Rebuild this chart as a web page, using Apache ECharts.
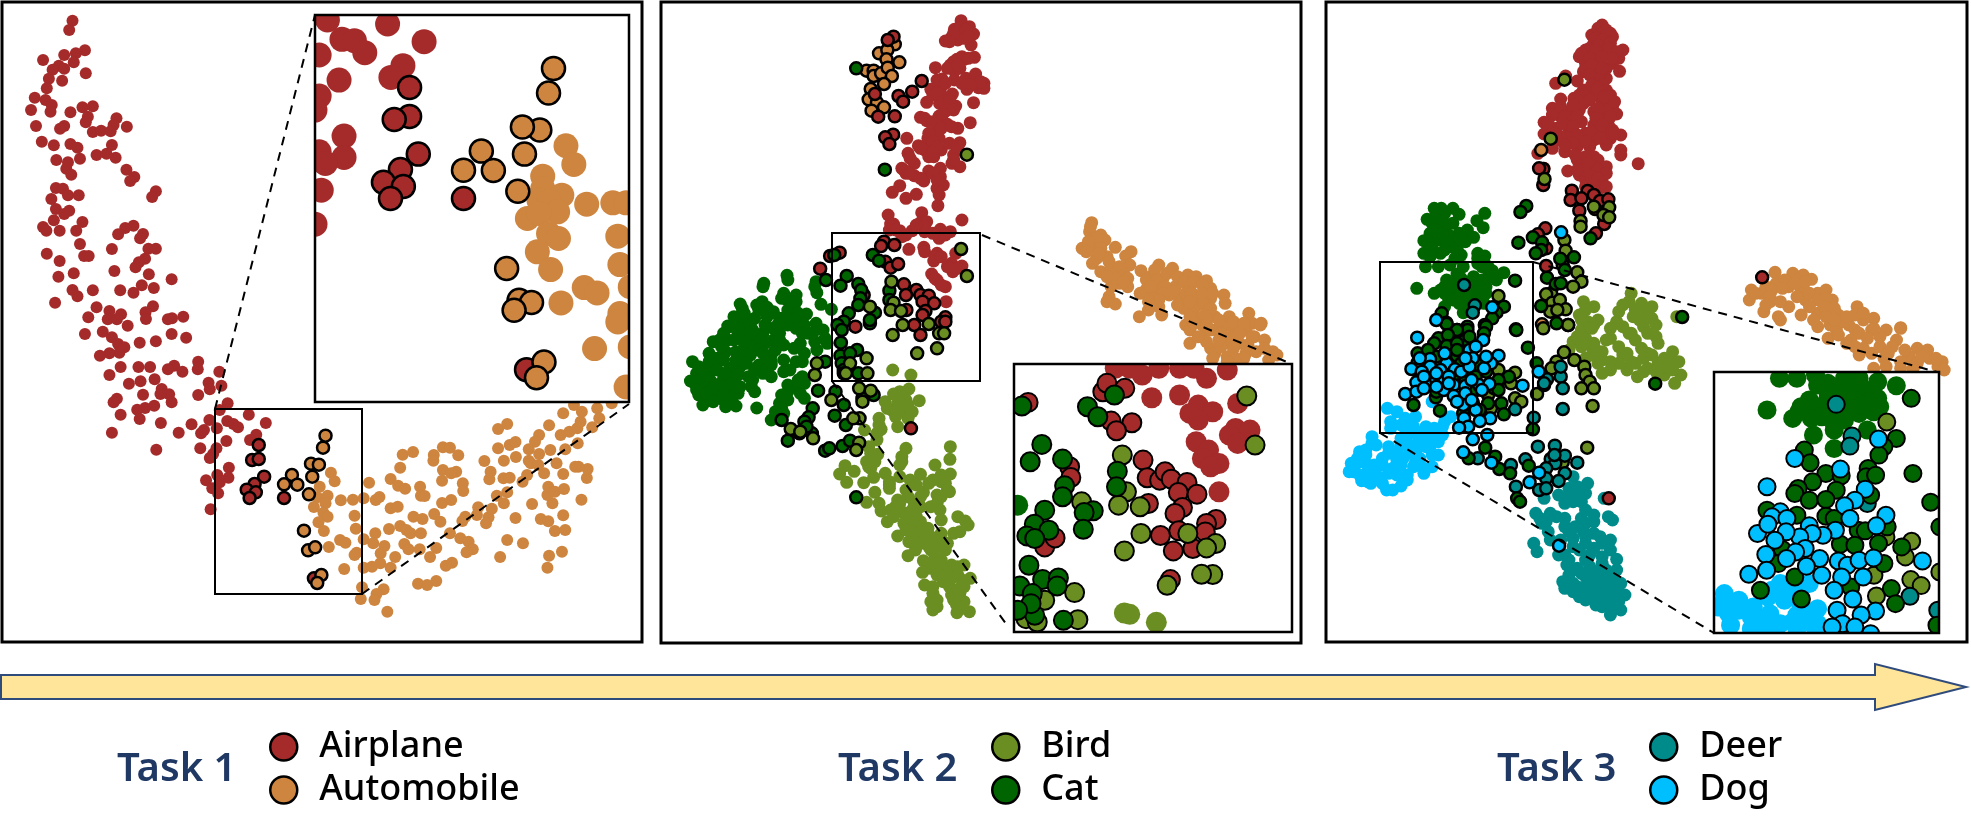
<!DOCTYPE html>
<html lang="en">
<head>
<meta charset="UTF-8">
<title>Task embeddings</title>
<script src="https://cdn.jsdelivr.net/npm/echarts@6/dist/echarts.min.js"></script>
<style>
    html, body { margin: 0; background: #fff; }
    #main { width: 1971px; height: 833px; }
</style>
</head>
<body>
<div id="main"></div>
<script>
// embedding coordinates, one list per class and per view
const t1Airplane = [[175,62],[167,90],[205,151],[183,160],[155,165],[104,180],[178,187],[142,197],[155,206],[127,209],[207,220],[118,236],[150,242],[113,265],[84,293],[110,300],[125,315],[75,330],[122,335],[170,337],[199,322],[224,319],[212,350],[207,367],[281,355],[274,375],[306,380],[87,378],[155,378],[145,386],[224,396],[244,392],[267,394],[101,425],[130,436],[170,432],[187,443],[270,435],[233,465],[257,461],[279,473],[193,476],[136,480],[164,487],[160,506],[172,524],[305,509],[324,531],[314,543],[135,564],[152,566],[164,586],[190,586],[124,597],[376,574],[367,591],[135,627],[167,632],[155,642],[130,661],[199,666],[104,681],[112,692],[144,692],[184,692],[322,677],[302,684],[285,703],[345,702],[338,715],[193,732],[270,747],[358,746],[376,746],[113,761],[203,768],[214,768],[350,776],[335,787],[327,802],[144,783],[178,820],[276,813],[359,823],[141,830],[414,838],[342,856],[371,864],[175,870],[187,889],[224,871],[290,871],[322,878],[133,908],[233,922],[369,919],[351,937],[264,933],[292,943],[213,952],[260,958],[282,958],[442,950],[415,955],[405,958],[352,957],[308,977],[205,1002],[248,995],[270,1012],[414,1002],[449,1013],[337,1028],[376,1024],[285,1032],[300,1042],[288,1058],[264,1060],[241,1067],[478,1085],[291,1101],[334,1101],[362,1101],[420,1097],[405,1108],[440,1115],[477,1108],[529,1115],[264,1125],[373,1138],[339,1144],[311,1151],[503,1148],[534,1157],[506,1168],[390,1167],[408,1183],[345,1184],[387,1182],[478,1185],[282,1196],[274,1207],[414,1207],[372,1217],[350,1224],[331,1229],[549,1210],[530,1230],[291,1244],[337,1257],[600,1244],[388,1269],[462,1273],[505,1260],[548,1263],[641,1269],[563,1272],[574,1282],[523,1285],[492,1290],[485,1300],[270,1298],[431,1298],[618,1304],[603,1320],[546,1323],[377,1349],[483,1345],[522,1345],[514,1362],[506,1374],[552,1403],[524,1425],[551,1433],[497,1441],[530,1447],[512,1465],[526,1480],[508,1528]];
const t1AirplaneOld = [[757,1735],[624,1335],[608,1380],[624,1377],[637,1430],[614,1452],[595,1469],[617,1477],[602,1494],[685,1494]];
const t1Automobile = [[798,1418],[807,1444],[771,1460],[890,1448],[942,1437],[965,1403],[971,1364],[996,1356],[1046,1365],[1045,1382],[1068,1342],[1085,1343],[1105,1366],[1068,1410],[1100,1415],[1088,1420],[1066,1442],[1116,1450],[1117,1473],[960,1457],[977,1466],[1013,1460],[1015,1487],[1024,1488],[765,1492],[790,1487],[757,1521],[785,1510],[822,1501],[851,1499],[877,1495],[906,1500],[915,1491],[942,1525],[959,1520],[1066,1509],[1088,1500],[1047,1542],[997,1550],[1019,1557],[1062,1565],[780,1538],[790,1550],[855,1547],[768,1567],[781,1593],[858,1586],[938,1587],[965,1578],[980,1590],[990,1600],[1015,1600],[905,1600],[877,1618],[820,1620],[833,1628],[900,1630],[793,1641],[927,1638],[975,1632],[985,1648],[1012,1648],[1052,1644],[1085,1600],[1110,1615],[1130,1625],[1140,1648],[1125,1657],[1122,1550],[1115,1563],[860,1658],[855,1665],[918,1660],[953,1671],[1037,1671],[917,1690],[877,1703],[897,1700],[942,1703],[830,1707],[1075,1697],[1090,1688],[1008,1751],[1030,1755],[1052,1743],[873,1762],[925,1768],[908,1782],[903,1800],[870,1797],[934,1835],[1153,1522],[1150,1545],[1178,1552],[1186,1526],[1172,1570],[1198,1487],[1215,1510],[1223,1477],[1243,1554],[1223,1620],[1261,1630],[1206,1671],[1283,1512],[1304,1557],[1322,1564],[1358,1546],[1338,1593],[1363,1590],[1324,1667],[1355,1655],[1320,1703],[1332,1510],[1320,1485],[1322,1460],[1338,1475],[1360,1467],[1402,1499],[1312,1420],[1358,1422],[1342,1390],[1415,1434],[1417,1407],[1395,1400],[1387,1400],[1271,1425],[1260,1445],[1214,1435],[1229,1433],[1180,1438],[1183,1415],[1168,1383],[1215,1382],[1244,1371],[1201,1345],[1229,1335],[1243,1326],[1201,1287],[1223,1272],[1275,1348],[1275,1382],[1300,1362],[1327,1350],[1300,1305],[1290,1325],[1280,1390],[1298,1395],[1324,1276],[1358,1240],[1352,1305],[1373,1295],[1392,1285],[1400,1265],[1403,1235],[1384,1215],[1440,1225],[1428,1282],[1445,1255],[1393,1330],[1363,1348],[1475,1210]];
const t1AutomobileOld = [[785,1307],[779,1343],[750,1391],[769,1394],[753,1430],[704,1425],[685,1453],[717,1454],[745,1483],[733,1592],[743,1651],[760,1642],[775,1725],[765,1749]];
const t1ZoomAirplane = [[790,60],[935,72],[825,118],[855,122],[880,158],[1023,125],[770,165],[972,197],[818,240],[943,232],[770,288],[760,330],[830,408],[770,455],[830,472],[785,490],[775,570],[760,672]];
const t1ZoomAirplaneOld = [[988,262],[988,349],[951,358],[1009,462],[966,508],[925,546],[973,559],[942,595],[1118,595],[1270,1108]];
const t1ZoomAutomobile = [[1365,437],[1384,493],[1309,528],[1309,565],[1355,585],[1415,612],[1478,608],[1510,608],[1300,600],[1325,605],[1345,635],[1272,655],[1300,640],[1323,700],[1347,715],[1296,755],[1328,808],[1490,708],[1495,793],[1409,862],[1440,878],[1353,908],[1495,940],[1520,860],[1490,965],[1434,1045],[1520,1040],[1510,1160]];
const t1ZoomAutomobileOld = [[1335,205],[1323,279],[1302,390],[1260,381],[1265,462],[1161,453],[1118,510],[1190,511],[1249,573],[1222,805],[1252,900],[1282,907],[1240,930],[1312,1085],[1294,1132]];

const t2Airplane = [[738,62],[722,88],[758,80],[768,102],[740,100],[715,112],[700,123],[730,120],[762,135],[770,172],[745,178],[728,178],[712,195],[735,205],[676,203],[722,213],[692,237],[665,268],[688,268],[722,240],[750,235],[773,222],[752,268],[780,263],[793,250],[793,265],[717,282],[700,293],[686,310],[655,307],[768,308],[725,318],[702,332],[685,348],[640,352],[655,362],[685,370],[705,373],[760,368],[730,385],[680,395],[607,415],[658,415],[635,437],[685,415],[735,428],[665,440],[690,450],[650,450],[610,460],[660,470],[672,470],[720,465],[716,490],[735,500],[625,490],[595,505],[660,513],[688,505],[605,520],[625,527],[648,543],[688,530],[695,555],[680,565],[590,557],[572,577],[630,583],[605,595],[685,585],[682,617],[562,645],[643,638],[740,660],[568,672],[640,668],[655,665],[565,690],[590,692],[620,692],[688,688],[712,695],[595,710],[650,695],[685,715],[612,748],[648,742],[650,755],[680,760],[672,783],[725,760],[740,798],[715,790],[718,815],[667,822],[680,840],[700,860],[702,905],[575,672],[735,85],[745,115],[720,100],[750,90],[755,110],[710,125],[740,170],[755,175],[720,185],[705,205],[730,195],[680,240],[700,250],[670,285],[680,280],[755,245],[770,250],[740,250],[785,245],[760,255],[695,305],[710,300],[720,330],[695,340],[650,355],[670,365],[690,385],[715,380],[660,400],[670,425],[680,440],[710,430],[730,440],[640,445],[670,455],[615,475],[720,480],[600,510],[615,520],[640,535],[670,520],[680,540],[575,680],[580,690],[650,680],[630,675],[605,705],[670,700],[700,705],[675,770],[690,770],[730,805],[705,800],[675,835],[690,855]];
const t2AirplaneOld = [[575,110],[561,120],[530,282],[587,288],[598,305],[620,275],[643,243],[538,350],[578,349],[574,404],[555,412],[565,432],[552,725],[545,738],[577,735],[422,768],[445,758],[398,806],[555,785],[568,803],[586,792],[600,853],[630,870],[640,885],[660,887],[605,885],[645,905],[673,910],[606,930],[652,933],[645,945],[700,952],[503,885],[625,975],[690,965],[483,980],[640,1005],[700,965],[617,1285]];
const t2Automobile = [[1053,668],[1048,695],[1075,705],[1085,720],[1030,745],[1060,740],[1110,742],[1148,755],[1135,768],[1090,770],[1065,775],[1145,795],[1055,790],[1075,815],[1110,810],[1130,820],[1215,795],[1248,805],[1172,812],[1195,830],[1225,835],[1285,825],[1305,830],[1330,842],[1120,850],[1140,860],[1100,860],[1185,868],[1215,860],[1255,860],[1290,860],[1340,865],[1095,890],[1090,905],[1110,912],[1200,890],[1240,885],[1265,895],[1310,900],[1340,895],[1372,885],[1375,910],[1215,920],[1275,925],[1300,925],[1190,930],[1168,950],[1222,945],[1335,935],[1350,950],[1385,950],[1432,940],[1310,955],[1280,975],[1405,975],[1440,970],[1462,970],[1375,975],[1290,990],[1320,1010],[1350,990],[1395,990],[1425,990],[1445,1010],[1375,1025],[1410,1030],[1340,1045],[1350,1060],[1380,1070],[1425,1060],[1450,1055],[1490,1055],[1500,1065],[1345,1075],[1290,1030],[1420,1075],[1470,1020],[1400,975],[1460,975],[1320,975],[1050,680],[1065,715],[1045,725],[1040,755],[1075,745],[1070,760],[1095,785],[1100,800],[1120,800],[1125,830],[1110,835],[1090,830],[1140,835],[1130,845],[1185,840],[1205,810],[1210,840],[1200,850],[1170,880],[1195,860],[1235,820],[1230,860],[1260,830],[1275,845],[1300,845],[1320,855],[1280,880],[1295,880],[1320,880],[1345,880],[1250,875],[1225,880],[1260,915],[1290,905],[1325,915],[1340,925],[1215,900],[1190,905],[1395,965],[1420,970],[1360,960],[1325,945],[1290,950],[1300,970],[1330,975],[1340,990],[1365,1000],[1390,1010],[1410,1000],[1440,1010],[1430,1035],[1395,1045],[1365,1040],[1330,1025],[1310,1010],[1360,1020],[1470,1045],[1480,1080],[1400,1075],[1380,1085]];
const t2AutomobileOld = [[578,133],[540,160],[560,150],[558,178],[589,187],[510,212],[527,212],[527,228],[545,220],[561,203],[571,228],[552,252],[520,267],[515,298],[535,308],[552,322],[522,332]];
const t2Bird = [[573,1110],[617,1125],[612,1167],[590,1175],[575,1182],[637,1202],[605,1200],[555,1205],[595,1230],[620,1235],[570,1230],[540,1255],[585,1280],[545,1288],[505,1290],[535,1320],[515,1340],[605,1345],[595,1370],[712,1340],[711,1378],[537,1363],[590,1395],[510,1385],[520,1405],[458,1397],[445,1422],[480,1414],[462,1447],[555,1420],[527,1432],[503,1448],[675,1395],[712,1422],[690,1425],[640,1423],[615,1440],[590,1430],[670,1440],[700,1450],[565,1455],[565,1465],[605,1470],[647,1477],[710,1475],[680,1485],[530,1477],[585,1500],[510,1507],[625,1510],[540,1510],[665,1520],[545,1533],[568,1530],[600,1538],[687,1530],[690,1560],[630,1550],[730,1550],[748,1563],[755,1575],[735,1595],[560,1565],[600,1570],[620,1580],[658,1585],[585,1608],[612,1625],[650,1615],[690,1600],[720,1600],[680,1625],[628,1650],[610,1667],[665,1650],[700,1650],[647,1682],[745,1695],[715,1695],[665,1705],[700,1710],[645,1717],[730,1725],[760,1735],[650,1755],[695,1745],[735,1765],[670,1780],[715,1785],[745,1760],[680,1820],[665,1805],[745,1805],[728,1838],[758,1835],[727,1815],[715,1715],[680,1710],[635,1600],[600,1190],[585,1210],[610,1215],[560,1225],[580,1250],[610,1255],[540,1275],[535,1300],[520,1360],[530,1385],[595,1385],[515,1400],[565,1445],[630,1455],[660,1450],[690,1445],[705,1470],[690,1490],[640,1490],[610,1490],[590,1510],[580,1520],[640,1520],[680,1510],[620,1530],[575,1550],[640,1565],[620,1560],[605,1590],[625,1600],[645,1600],[620,1620],[640,1630],[665,1610],[690,1620],[660,1640],[680,1640],[705,1630],[675,1670],[690,1680],[665,1690],[730,1700],[700,1725],[680,1725],[715,1735],[740,1740],[670,1760],[710,1760],[735,1780],[680,1800],[720,1800],[740,1825],[670,1830]];
const t2BirdOld = [[752,464],[738,747],[752,828],[570,845],[575,908],[568,930],[593,933],[518,920],[597,975],[660,972],[573,1005],[685,1000],[697,1000],[632,1060],[680,1045],[510,1075],[390,1090],[385,1125],[512,1120],[492,1165],[520,1172],[425,1200],[500,1205],[493,1255],[478,1255],[327,1287],[381,1315],[350,1295],[492,1328],[485,1350],[470,1090],[460,1120]];
const t2Cat = [[318,826],[262,850],[388,845],[390,878],[310,880],[340,885],[205,912],[258,905],[245,915],[270,922],[315,897],[400,913],[425,928],[335,925],[330,945],[300,955],[365,942],[210,965],[240,955],[175,978],[320,965],[352,965],[388,970],[228,985],[180,980],[225,975],[260,1000],[285,985],[320,975],[360,975],[405,990],[370,1000],[140,1025],[175,1020],[210,1010],[240,1025],[285,1020],[310,1035],[335,1045],[130,1060],[170,1055],[195,1055],[280,1065],[360,1060],[390,1050],[415,1030],[90,1085],[150,1075],[205,1100],[250,1095],[270,1085],[340,1085],[355,1085],[100,1120],[125,1105],[180,1105],[85,1143],[130,1125],[165,1135],[185,1135],[310,1115],[280,1130],[355,1130],[120,1160],[150,1155],[200,1180],[175,1175],[105,1185],[150,1190],[232,1160],[240,1175],[320,1155],[345,1165],[115,1215],[195,1218],[165,1200],[245,1224],[300,1210],[320,1200],[360,1195],[305,1225],[280,1260],[135,1145],[140,1090],[110,1140],[190,1165],[130,1190],[320,840],[260,860],[385,860],[305,895],[340,905],[210,925],[250,930],[320,930],[345,940],[315,950],[335,960],[230,970],[200,985],[235,990],[265,975],[295,975],[340,985],[200,1000],[250,1010],[230,1000],[265,1030],[300,1000],[290,1050],[160,1040],[140,1075],[165,1080],[195,1080],[215,1030],[130,1085],[105,1100],[120,1130],[150,1110],[170,1120],[200,1125],[265,1110],[280,1095],[260,1120],[95,1150],[115,1160],[140,1165],[165,1160],[185,1150],[100,1170],[125,1180],[165,1185],[205,1160],[140,1205],[185,1195],[170,1220],[290,1235],[310,1240],[345,1140],[350,1180],[360,1150],[320,1175],[305,1185],[280,1085],[240,1110],[230,1040],[190,950],[215,940],[270,950],[285,935],[355,1000],[300,1020],[250,1050],[215,1060],[190,1020],[165,1000],[155,1020],[230,1065],[235,1140],[260,1060],[310,1080],[325,1110],[220,1090],[225,1130],[350,1030],[385,1025],[380,1000],[410,1015]];
const t2CatOld = [[485,205],[554,509],[432,765],[525,765],[540,782],[412,840],[462,828],[447,857],[490,852],[497,870],[495,895],[490,915],[565,872],[565,900],[467,940],[455,965],[518,970],[530,938],[518,960],[440,975],[450,990],[448,1028],[487,1050],[447,1067],[470,1060],[410,1085],[450,1090],[455,1110],[435,1175],[455,1215],[433,1247],[460,1275],[380,1225],[370,1252],[360,1265],[348,1300],[320,1322],[378,1300],[410,1352],[420,1345],[452,1338],[470,1322],[393,1172],[500,1195],[527,1185],[490,1120],[455,1120],[485,1492],[305,1260],[365,1280]];
const t2ZoomAirplane = [[1110,1105],[1145,1105],[1175,1125],[1215,1105],[1265,1105],[1300,1105],[1330,1135],[1380,1110],[1198,1193],[1265,1185],[1310,1215],[1345,1235],[1405,1210],[1400,1285],[1385,1305],[1435,1290],[1405,1330],[1305,1325],[1335,1350],[1320,1375],[1360,1390],[1340,1400],[1360,1475],[1290,1240],[1310,1260]];
const t2ZoomAirplaneOld = [[900,1207],[1080,1175],[1090,1150],[1133,1165],[1100,1263],[1150,1268],[1113,1292],[1000,1400],[1003,1432],[1177,1380],[1187,1433],[1217,1440],[1230,1415],[1245,1437],[1283,1447],[1262,1477],[1307,1482],[1190,1510],[1272,1522],[1254,1540],[1263,1592],[1353,1558],[1330,1570],[1327,1595],[1219,1606],[1250,1652],[1297,1645],[940,1640],[965,1613],[1243,1738]];
const t2ZoomBird = [[1132,1838],[1145,1842],[1209,1866]];
const t2ZoomBirdOld = [[1427,1188],[1447,1335],[1127,1365],[1137,1475],[1118,1515],[1170,1520],[1029,1505],[1172,1600],[1285,1600],[1352,1630],[1330,1643],[1132,1652],[1345,1723],[1318,1722],[1235,1755],[1012,1777],[940,1800],[895,1855],[922,1865],[1020,1858]];
const t2ZoomCat = [[875,1515]];
const t2ZoomCatOld = [[885,1218],[1108,1185],[1043,1220],[1068,1250],[933,1333],[905,1385],[983,1377],[1115,1413],[1113,1460],[988,1457],[983,1490],[940,1530],[1057,1532],[1035,1537],[1033,1587],[915,1572],[950,1590],[897,1607],[916,1615],[902,1695],[935,1738],[973,1733],[970,1757],[880,1757],[910,1780],[916,1845],[907,1810],[985,1860],[875,1830]];

const t3Airplane = [[680,75],[700,100],[655,105],[680,100],[705,110],[660,130],[690,125],[650,145],[680,145],[730,150],[625,170],[655,165],[700,160],[720,175],[640,190],[675,185],[705,190],[722,214],[635,215],[665,210],[690,235],[620,243],[568,250],[592,228],[660,240],[690,270],[650,270],[665,285],[580,297],[612,295],[640,295],[695,295],[680,310],[705,320],[560,325],[600,335],[625,330],[660,335],[715,342],[540,367],[575,345],[600,360],[630,365],[680,350],[660,375],[695,375],[570,385],[600,385],[540,402],[605,405],[640,400],[680,395],[725,405],[700,415],[570,420],[625,425],[660,420],[590,455],[620,440],[650,440],[690,435],[725,450],[725,465],[560,445],[525,460],[620,480],[660,470],[670,480],[767,491],[690,500],[597,513],[660,500],[680,520],[625,525],[640,540],[660,540],[680,545],[650,520],[675,565],[640,560],[540,505],[670,85],[690,90],[665,115],[680,120],[700,130],[670,135],[640,150],[665,150],[695,145],[630,160],[650,175],[680,170],[715,155],[640,205],[655,195],[690,205],[705,175],[670,225],[680,205],[650,225],[680,255],[635,270],[655,255],[625,285],[670,265],[700,285],[685,290],[650,300],[635,310],[690,330],[670,325],[710,305],[560,345],[580,320],[590,350],[610,315],[620,350],[550,370],[585,370],[610,380],[665,355],[700,350],[655,395],[680,375],[705,390],[580,410],[620,405],[560,400],[610,430],[640,425],[675,415],[710,400],[590,435],[640,470],[615,465],[645,490],[670,510],[655,530],[690,520],[635,510],[670,535],[660,555],[690,560],[620,510]];
const t3AirplaneOld = [[538,507],[528,505],[538,555],[607,572],[645,573],[604,600],[660,585],[630,595],[675,603],[695,598],[625,632],[663,627],[685,672],[665,700],[543,685],[525,703],[545,745],[545,798],[1066,832],[696,1495]];
const t3Automobile = [[1097,817],[1040,870],[1035,900],[1065,880],[1100,850],[1140,820],[1165,825],[1185,838],[1130,860],[1160,870],[1200,880],[1220,870],[1070,935],[1105,950],[1130,920],[1170,900],[1235,900],[1160,945],[1200,940],[1250,945],[1295,920],[1335,955],[1400,983],[1310,960],[1275,975],[1230,975],[1365,990],[1200,980],[1085,905],[1110,960],[1245,990],[1290,990],[1330,990],[1225,1015],[1280,1020],[1350,1010],[1400,985],[1390,1020],[1440,1045],[1465,1050],[1500,1085],[1490,1100],[1330,1060],[1300,1065],[1360,1075],[1420,1070],[1335,1105],[1440,1090],[1400,1105],[1050,880],[1075,860],[1090,870],[1120,840],[1150,840],[1170,845],[1115,865],[1145,850],[1085,890],[1110,905],[1075,915],[1150,890],[1180,880],[1200,900],[1220,895],[1180,920],[1215,920],[1240,925],[1190,960],[1220,950],[1260,965],[1290,945],[1310,940],[1270,950],[1240,960],[1335,985],[1300,1000],[1250,1005],[1270,1030],[1320,1015],[1290,1040],[1350,1040],[1310,1045],[1380,1040],[1410,1050],[1370,1060],[1400,1085],[1450,1070],[1470,1075],[1485,1075],[1505,1110],[1430,1105],[1365,1100]];
const t3AutomobileOld = [[533,450],[535,973]];
const t3Bird = [[635,905],[660,920],[750,880],[775,910],[800,920],[720,935],[625,945],[670,960],[755,950],[800,955],[715,965],[645,965],[810,975],[860,950],[630,990],[660,975],[715,970],[780,980],[610,1025],[650,1035],[700,1015],[760,1020],[815,1030],[680,1055],[730,1065],[790,1060],[850,1055],[600,1050],[865,1085],[670,1090],[720,1090],[760,1090],[815,1090],[680,1120],[765,1130],[790,1105],[830,1125],[855,1150],[870,1125],[655,1065],[640,1015],[745,1000],[640,930],[630,960],[655,985],[730,915],[760,930],[780,925],[745,905],[790,945],[770,960],[730,980],[700,985],[620,1010],[630,1040],[665,1050],[690,1020],[720,1040],[750,1000],[790,1000],[810,1010],[775,1045],[740,1060],[750,1085],[700,1085],[780,1075],[800,1065],[830,1075],[825,1100],[850,1085],[700,1110],[740,1110],[780,1115],[810,1115],[850,1110],[680,1080],[660,1030],[640,1075]];
const t3BirdOld = [[589,239],[556,416],[541,537],[660,620],[697,622],[683,645],[697,652],[628,663],[628,680],[589,720],[592,752],[585,795],[620,817],[630,845],[610,860],[430,888],[557,880],[545,883],[560,908],[578,900],[592,928],[555,935],[572,930],[598,975],[538,985],[598,975],[588,1057],[613,1080],[637,1100],[640,1125],[570,1085],[558,1105],[650,1145],[630,1165],[660,1165],[523,1182],[657,1218],[470,1118],[460,1150],[430,1110],[405,1185],[412,1225],[470,1195],[485,1205],[644,1343],[585,1387],[540,1155]];
const t3Cat = [[275,625],[292,625],[320,625],[335,643],[397,640],[258,658],[290,655],[320,670],[378,662],[393,683],[355,690],[265,700],[300,690],[335,700],[370,712],[250,722],[285,720],[350,725],[315,740],[380,760],[397,768],[250,760],[290,760],[340,765],[380,775],[254,800],[285,800],[313,795],[345,800],[390,800],[415,812],[443,818],[330,822],[305,840],[370,830],[405,830],[233,865],[275,880],[300,860],[330,880],[370,860],[400,860],[425,840],[310,900],[345,900],[385,890],[345,938],[395,910],[300,920],[360,920],[280,640],[270,670],[300,640],[280,660],[300,670],[275,690],[310,705],[260,725],[295,700],[320,720],[340,715],[270,745],[305,725],[300,750],[265,770],[330,745],[325,775],[380,790],[395,785],[405,800],[340,835],[360,845],[390,840],[320,855],[345,855],[290,870],[320,870],[350,870],[385,860],[415,830],[300,880],[340,880],[380,875],[320,900],[400,880],[335,910],[360,890]];
const t3CatOld = [[497,618],[483,636],[478,728],[652,715],[513,712],[535,727],[533,750],[520,760],[579,776],[612,772],[590,810],[547,833],[568,852],[580,850],[470,842],[443,920],[425,938],[415,955],[293,940],[304,968],[355,980],[330,990],[397,975],[472,988],[533,918],[570,970],[873,951],[305,972],[355,990],[400,980],[473,990],[285,1015],[330,990],[308,1005],[350,1020],[395,1000],[305,1038],[330,1030],[275,1030],[235,1060],[330,1068],[501,1043],[380,1095],[355,1125],[375,1130],[455,1130],[420,1165],[225,1215],[279,1192],[289,1232],[368,1208],[437,1210],[443,1243],[513,1288],[398,1343],[358,1375],[432,1407],[458,1420],[422,1370],[503,1397],[475,1495],[482,1505],[808,1151],[522,1090],[340,1090],[260,1140],[320,1130],[430,1140],[280,1070],[240,1135],[260,1100],[300,1115],[350,1145],[400,1115],[430,1170],[280,1175],[370,1175],[405,1210],[345,1240],[385,1230],[260,1050],[360,1010],[330,1050]];
const t3Deer = [[610,1430],[645,1450],[600,1465],[620,1490],[575,1485],[540,1495],[630,1505],[685,1495],[520,1540],[555,1540],[590,1555],[660,1545],[695,1550],[705,1560],[535,1570],[600,1595],[640,1570],[550,1595],[515,1630],[523,1655],[640,1610],[675,1610],[700,1620],[555,1620],[575,1665],[610,1640],[660,1645],[700,1650],[715,1678],[595,1695],[640,1680],[680,1690],[620,1705],[670,1715],[585,1745],[715,1710],[725,1750],[735,1785],[650,1750],[610,1775],[675,1765],[640,1800],[700,1790],[665,1815],[725,1830],[700,1845],[695,1820],[640,1730],[690,1740],[620,1460],[600,1490],[640,1480],[590,1510],[610,1505],[640,1530],[530,1555],[570,1550],[545,1565],[630,1555],[660,1565],[590,1580],[615,1580],[660,1600],[635,1595],[680,1630],[610,1615],[640,1630],[580,1620],[625,1650],[650,1665],[590,1665],[680,1670],[600,1680],[610,1710],[650,1700],[690,1710],[630,1720],[600,1725],[650,1725],[590,1765],[620,1760],[660,1770],[700,1765],[640,1760],[680,1785],[715,1770],[650,1785],[625,1790],[660,1800],[720,1805],[710,1825],[690,1810],[680,1820],[610,1750],[670,1745],[705,1735]];
const t3DeerOld = [[347,855],[373,916],[368,938],[470,1228],[515,1253],[525,1340],[566,1337],[580,1130],[547,1138],[585,1165],[585,1227],[580,1100],[540,1150],[380,1375],[495,1378],[460,1395],[472,1460],[556,1377],[590,1367],[620,1388],[567,1390],[545,1405],[590,1420],[528,1470],[545,1435],[575,1443],[545,1465],[565,1365]];
const t3Dog = [[162,1225],[185,1235],[205,1255],[230,1250],[170,1285],[270,1205],[315,1250],[295,1280],[255,1280],[225,1280],[195,1315],[125,1310],[110,1350],[95,1355],[135,1335],[165,1340],[75,1390],[110,1390],[150,1375],[185,1360],[245,1315],[285,1365],[270,1310],[215,1360],[80,1415],[100,1442],[130,1415],[175,1405],[210,1425],[250,1405],[270,1400],[150,1450],[175,1470],[195,1458],[122,1450],[230,1385],[255,1340],[295,1305],[195,1275],[205,1285],[220,1300],[250,1295],[275,1285],[170,1265],[210,1330],[235,1330],[195,1335],[265,1340],[230,1355],[125,1330],[110,1365],[90,1375],[130,1395],[165,1360],[150,1395],[195,1395],[85,1395],[70,1415],[115,1415],[140,1430],[185,1425],[95,1425],[115,1445],[200,1375],[225,1400],[240,1375],[165,1420],[185,1380],[300,1265],[160,1470],[285,1325],[210,1440],[250,1420],[270,1365]];
const t3DogOld = [[581,697],[415,922],[280,960],[234,1013],[393,1020],[360,1050],[375,1040],[430,1067],[265,1077],[235,1088],[305,1090],[368,1075],[412,1090],[220,1107],[265,1100],[290,1110],[325,1108],[245,1115],[232,1147],[265,1155],[205,1182],[232,1175],[298,1170],[322,1155],[350,1158],[383,1155],[408,1152],[488,1157],[322,1188],[345,1215],[375,1230],[410,1255],[347,1255],[357,1280],[385,1263],[335,1283],[403,1305],[368,1318],[345,1357],[413,1388],[527,1115],[528,1418],[505,1447],[576,1637],[280,1140],[300,1140],[250,1130],[280,1120],[310,1130],[340,1115],[360,1100],[395,1105],[250,1165],[280,1160],[310,1150],[365,1140],[390,1170],[350,1180],[330,1205],[365,1200],[240,1075],[300,1060],[350,1075],[400,1070]];
const t3ZoomCat = [[1108,1135],[1150,1135],[1195,1125],[1225,1150],[1265,1135],[1345,1145],[1390,1157],[1180,1200],[1225,1195],[1300,1180],[1345,1195],[1078,1230],[1140,1255],[1175,1235],[1235,1245],[1300,1240],[1335,1235],[1190,1305],[1240,1290],[1320,1290],[1240,1345],[1300,1135],[1200,1155],[1245,1165],[1280,1160],[1315,1170],[1225,1175],[1260,1195],[1290,1200],[1325,1205],[1200,1220],[1160,1220],[1250,1215],[1280,1225],[1310,1215],[1350,1220],[1210,1250],[1265,1260],[1185,1255],[1240,1270],[1155,1235]];
const t3ZoomCatOld = [[1426,1195],[1390,1315],[1360,1340],[1348,1365],[1168,1350],[1182,1388],[1220,1420],[1257,1427],[1322,1405],[1317,1430],[1340,1425],[1430,1420],[1188,1445],[1153,1465],[1145,1480],[1245,1470],[1180,1500],[1220,1498],[1328,1485],[1473,1506],[1078,1530],[1150,1545],[1220,1548],[1240,1555],[1298,1590],[1315,1592],[1368,1580],[1495,1580],[1255,1632],[1290,1635],[1115,1648],[1347,1630],[1403,1640],[1105,1690],[1360,1690],[1145,1730],[1062,1770],[1161,1796],[1378,1765],[1388,1810],[1280,1760],[1488,1875]];
const t3ZoomDeerOld = [[1245,1213],[1283,1308],[1278,1338],[1423,1788],[1490,1830],[1320,1510]];
const t3ZoomBirdOld = [[1367,1266],[1365,1610],[1427,1623],[1412,1670],[1336,1725],[1425,1738],[1450,1756],[1342,1787],[1495,1715]];
const t3ZoomDog = [[975,1780],[1010,1800],[960,1820],[1045,1820],[1085,1840],[1110,1750],[1080,1790],[1180,1750],[990,1875],[1060,1875],[1140,1865],[1180,1865],[1200,1825],[1100,1880],[1160,1820],[1040,1850],[1070,1860],[1110,1870],[1150,1845],[1175,1840],[1200,1870],[1040,1885],[1080,1885],[1150,1885],[1195,1885],[1120,1800],[1145,1770],[975,1800],[985,1840],[1010,1830],[1090,1770]];
const t3ZoomDogOld = [[1347,1317],[1145,1375],[1255,1407],[1078,1460],[1315,1467],[1290,1500],[1265,1517],[1110,1535],[1090,1550],[1126,1555],[1278,1555],[1365,1545],[1342,1577],[1180,1577],[1243,1590],[1213,1605],[1187,1600],[1157,1610],[1055,1600],[1080,1572],[1124,1595],[1097,1620],[1170,1645],[1147,1655],[1075,1663],[1125,1675],[1205,1675],[1250,1682],[1272,1695],[1300,1680],[1335,1673],[1453,1682],[1173,1698],[1077,1710],[1034,1722],[1210,1725],[1258,1730],[1310,1730],[1240,1770],[1285,1796],[1340,1832],[1305,1844],[1247,1830],[1260,1870],[1235,1880],[1328,1900],[1290,1880]];

const classNames = ['Airplane', 'Automobile', 'Bird', 'Cat', 'Deer', 'Dog'];
const classColors = ['#A52A2A', '#CD853F', '#6B8E23', '#006400', '#008B8B', '#00BFFF'];

// grid rectangle + axis range of each view
const views = [
    {left: 2, top: 2, width: 640, height: 640, xMin: 5, xMax: 1548, yMin: 6, yMax: 1926},
    {left: 661, top: 2, width: 640, height: 641, xMin: 14, xMax: 1558, yMin: 6, yMax: 1929},
    {left: 1326, top: 2, width: 641, height: 640, xMin: 14, xMax: 1560, yMin: 6, yMax: 1926},
    {left: 315, top: 15, width: 314, height: 387, xMin: 760, xMax: 1517, yMin: 45, yMax: 1205},
    {left: 1014, top: 364, width: 278, height: 268, xMin: 866, xMax: 1536, yMin: 1092, yMax: 1895},
    {left: 1714, top: 372, width: 225, height: 261, xMin: 950, xMax: 1493, yMin: 1116, yMax: 1898}
];

const grid = views.map((v, i) => ({
    left: v.left, top: v.top, width: v.width, height: v.height,
    show: true, backgroundColor: '#fff', borderColor: '#000',
    borderWidth: i < 3 ? 3 : 0, z: i < 3 ? 0 : 10
}));
const xAxis = views.map((v, i) => ({type: 'value', gridIndex: i, min: v.xMin, max: v.xMax, show: false}));
const yAxis = views.map((v, i) => ({type: 'value', gridIndex: i, min: v.yMin, max: v.yMax, inverse: true, show: false}));

function dots(cls, data, view, size, border) {
    // insets are cut at their frame, scatter only drops whole points so they go through custom
    if (view >= 3) {
        return {
            type: 'custom',
            name: classNames[cls],
            data: data,
            xAxisIndex: view,
            yAxisIndex: view,
            encode: {x: 0, y: 1},
            clip: true,
            silent: true,
            z: border ? 13 : 12,
            renderItem: function (params, api) {
                const p = api.coord([api.value(0), api.value(1)]);
                return {
                    type: 'circle',
                    shape: {cx: p[0], cy: p[1], r: size / 2},
                    style: {fill: classColors[cls], stroke: border ? '#000' : null, lineWidth: border || 0}
                };
            }
        };
    }
    return {
        type: 'scatter',
        name: classNames[cls],
        data: data,
        xAxisIndex: view,
        yAxisIndex: view,
        symbolSize: size,
        z: border ? 4 : 3,
        silent: true,
        itemStyle: {
            color: classColors[cls], opacity: 1,
            borderColor: '#000', borderWidth: border || 0
        }
    };
}

const series = [
    // task 1
    dots(0, t1Airplane, 0, 12),
    dots(1, t1Automobile, 0, 12),
    dots(0, t1AirplaneOld, 0, 12, 2.5),
    dots(1, t1AutomobileOld, 0, 12, 2.5),
    dots(0, t1ZoomAirplane, 3, 25),
    dots(1, t1ZoomAutomobile, 3, 25),
    dots(0, t1ZoomAirplaneOld, 3, 23, 2.5),
    dots(1, t1ZoomAutomobileOld, 3, 23, 2.5),
    // task 2
    dots(0, t2Airplane, 1, 13),
    dots(1, t2Automobile, 1, 13),
    dots(2, t2Bird, 1, 13),
    dots(3, t2Cat, 1, 13),
    dots(1, t2AutomobileOld, 1, 12, 2.5),
    dots(0, t2AirplaneOld, 1, 12, 2.5),
    dots(3, t2CatOld, 1, 12, 2.5),
    dots(2, t2BirdOld, 1, 12, 2.5),
    dots(0, t2ZoomAirplane, 4, 21),
    dots(2, t2ZoomBird, 4, 21),
    dots(3, t2ZoomCat, 4, 21),
    dots(0, t2ZoomAirplaneOld, 4, 19, 2),
    dots(2, t2ZoomBirdOld, 4, 19, 2),
    dots(3, t2ZoomCatOld, 4, 19, 2),
    // task 3
    dots(0, t3Airplane, 2, 13),
    dots(1, t3Automobile, 2, 13),
    dots(2, t3Bird, 2, 13),
    dots(3, t3Cat, 2, 13),
    dots(4, t3Deer, 2, 13),
    dots(5, t3Dog, 2, 13),
    dots(0, t3AirplaneOld, 2, 12, 2.5),
    dots(1, t3AutomobileOld, 2, 12, 2.5),
    dots(2, t3BirdOld, 2, 12, 2.5),
    dots(4, t3DeerOld, 2, 12, 2.5),
    dots(3, t3CatOld, 2, 12, 2.5),
    dots(5, t3DogOld, 2, 12, 2.5),
    dots(3, t3ZoomCat, 5, 19),
    dots(5, t3ZoomDog, 5, 19),
    dots(2, t3ZoomBirdOld, 5, 17, 2),
    dots(4, t3ZoomDeerOld, 5, 17, 2),
    dots(3, t3ZoomCatOld, 5, 17, 2),
    dots(5, t3ZoomDogOld, 5, 17, 2)
];

function legendItem(cls) {
    return {name: classNames[cls], icon: 'circle', itemStyle: {color: classColors[cls], borderColor: '#000', borderWidth: 2.5}};
}
function legendAt(left, a, b) {
    return {
        left: left, top: 729, orient: 'vertical', selectedMode: false,
        itemWidth: 27, itemHeight: 27, itemGap: 7, padding: 0,
        data: [legendItem(a), legendItem(b)],
        textStyle: {fontFamily: 'Noto Sans', fontSize: 36, lineHeight: 36, color: '#000', fontWeight: 500, padding: [0, 0, 0, 17]}
    };
}

function box(x, y, w, h, z, width) {
    return {type: 'rect', z: z, silent: true, shape: {x: x, y: y, width: w, height: h},
        style: {fill: null, stroke: '#000', lineWidth: width}};
}
function dash(x1, y1, x2, y2) {
    return {type: 'line', z: 8, silent: true, shape: {x1: x1, y1: y1, x2: x2, y2: y2},
        style: {stroke: '#000', lineWidth: 2, lineDash: [9, 7]}};
}
function taskLabel(text, x) {
    return {type: 'text', z: 8, silent: true, x: x, y: 750,
        style: {text: text, fontFamily: 'Noto Sans', fontSize: 40, fontWeight: 600, fill: '#1F3864'}};
}

const graphic = [
    box(215, 409, 147, 185, 8, 2), box(832, 233, 148, 148, 8, 2), box(1380, 262, 153, 171, 8, 2),
    dash(215, 409, 315, 15), dash(362, 594, 629, 404),
    dash(982, 235, 1287, 362), dash(832, 381, 1009, 628),
    dash(1533, 262, 1937, 372), dash(1380, 433, 1714, 633),
    box(315, 15, 314, 387, 14, 2.5), box(1014, 364, 278, 268, 14, 2.5), box(1714, 372, 225, 261, 14, 2.5),
    {type: 'polygon', z: 8, silent: true,
        shape: {points: [[1, 675], [1875, 675], [1875, 664], [1966, 687], [1875, 710], [1875, 699], [1, 699]]},
        style: {fill: '#FFE599', stroke: '#2F4B7C', lineWidth: 2}},
    taskLabel('Task 1', 117), taskLabel('Task 2', 838), taskLabel('Task 3', 1497)
];

const myChart = echarts.init(document.getElementById('main'));
myChart.setOption({
    animation: false,
    backgroundColor: '#fff',
    tooltip: {show: false},
    grid: grid,
    xAxis: xAxis,
    yAxis: yAxis,
    legend: [legendAt(269, 0, 1), legendAt(991, 2, 3), legendAt(1649, 4, 5)],
    series: series,
    graphic: graphic
});
</script>
</body>
</html>
